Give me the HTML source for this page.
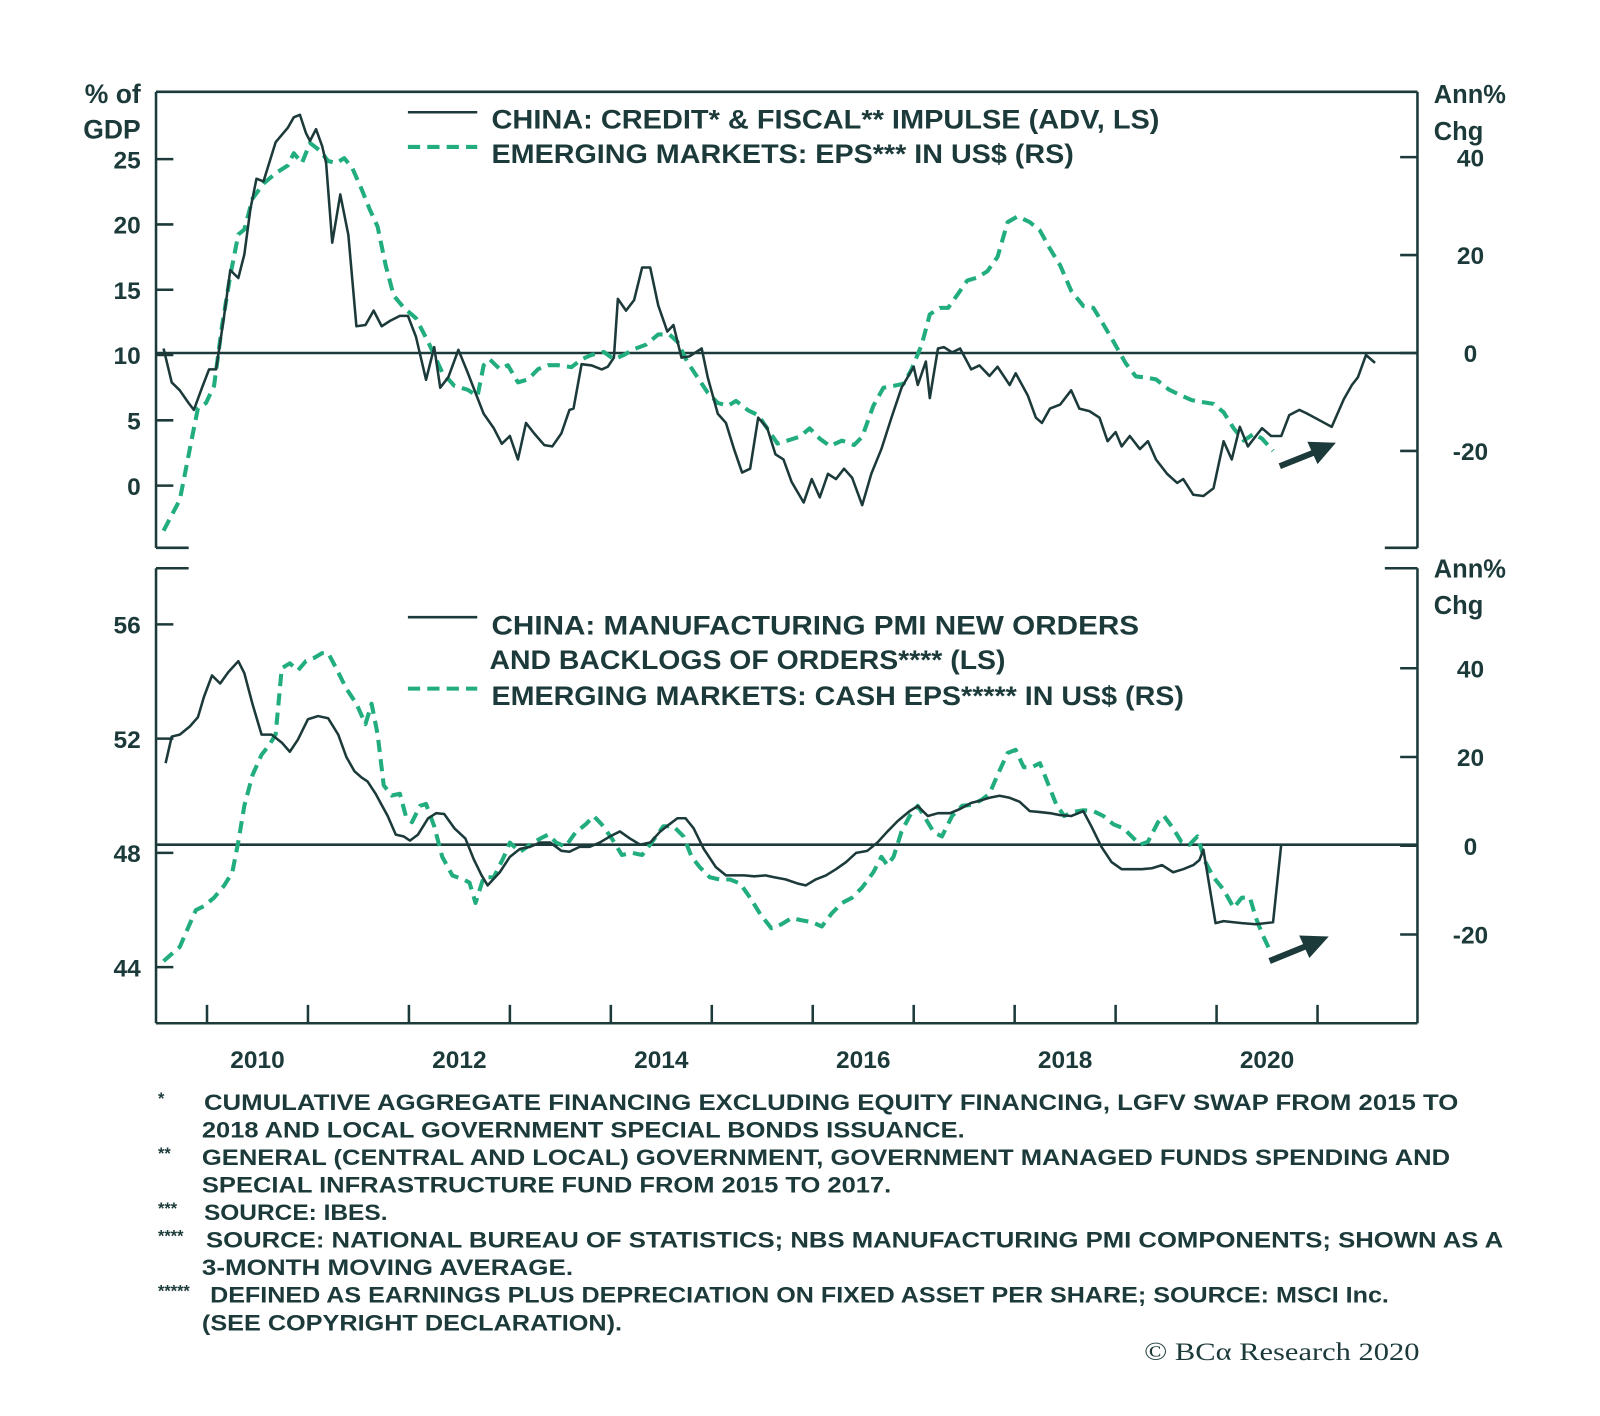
<!DOCTYPE html>
<html><head><meta charset="utf-8"><style>
html,body{margin:0;padding:0;background:#fff;}
svg{display:block;}
text{font-family:"Liberation Sans",sans-serif;fill:#1c3a3a;font-weight:bold;}
</style></head><body>
<svg id="chart" width="1600" height="1416" viewBox="0 0 1569 1388" preserveAspectRatio="none" xmlns="http://www.w3.org/2000/svg">
<rect width="1569" height="1388" fill="#fff"/>
<g id="frame" stroke="#1c3a3a" stroke-width="2.5" fill="none">
<line x1="153" y1="90" x2="1390" y2="90"/>
<line x1="153" y1="90" x2="153" y2="537"/>
<line x1="1390" y1="90" x2="1390" y2="537"/>
<line x1="153" y1="537" x2="185" y2="537"/>
<line x1="1358" y1="537" x2="1390" y2="537"/>
<line x1="153" y1="557" x2="185" y2="557"/>
<line x1="1358" y1="557" x2="1390" y2="557"/>
<line x1="153" y1="557" x2="153" y2="1003"/>
<line x1="1390" y1="557" x2="1390" y2="1003"/>
<line x1="153" y1="1003" x2="1390" y2="1003"/>
</g>
<g id="axes"></g>
<g id="series"></g>
<g>
<line x1="400" y1="110" x2="468" y2="110" stroke="#1c3a3a" stroke-width="2.5"/>
<line x1="400" y1="144" x2="468" y2="144" stroke="#22ad7f" stroke-width="4" stroke-dasharray="12,7"/>
<text x="482" y="126" font-size="26" textLength="655" lengthAdjust="spacingAndGlyphs">CHINA: CREDIT* &amp; FISCAL** IMPULSE (ADV, LS)</text>
<text x="482" y="160" font-size="26" textLength="571" lengthAdjust="spacingAndGlyphs">EMERGING MARKETS: EPS*** IN US$ (RS)</text>
</g>
<g>
<line x1="400" y1="605" x2="468" y2="605" stroke="#1c3a3a" stroke-width="2.5"/>
<line x1="400" y1="675" x2="468" y2="675" stroke="#22ad7f" stroke-width="4" stroke-dasharray="12,7"/>
<text x="482" y="622" font-size="26" textLength="635" lengthAdjust="spacingAndGlyphs">CHINA: MANUFACTURING PMI NEW ORDERS</text>
<text x="480" y="656" font-size="26" textLength="506" lengthAdjust="spacingAndGlyphs">AND BACKLOGS OF ORDERS**** (LS)</text>
<text x="482" y="691" font-size="26" textLength="679" lengthAdjust="spacingAndGlyphs">EMERGING MARKETS: CASH EPS***** IN US$ (RS)</text>
</g>
<g font-size="25">
<text x="138" y="101" text-anchor="end" font-size="26">% of</text>
<text x="138" y="136" text-anchor="end" font-size="26">GDP</text>
<text x="1406" y="101" font-size="25">Ann%</text>
<text x="1406" y="137" font-size="25">Chg</text>
<text x="1406" y="566" font-size="25">Ann%</text>
<text x="1406" y="602" font-size="25">Chg</text>
</g>
<g fill="#1c3a3a" stroke="#1c3a3a">
<line x1="1255" y1="457" x2="1290" y2="443" stroke-width="6"/>
<polygon points="1310,434 1282,433 1292,455" stroke="none"/>
<line x1="1245" y1="942" x2="1282" y2="927" stroke-width="6"/>
<polygon points="1303,918 1274,917 1284,939" stroke="none"/>
</g>
<g font-size="22">
<text x="155" y="1082" font-size="16">*</text>
<text x="200" y="1088" font-size="22" textLength="1230" lengthAdjust="spacingAndGlyphs">CUMULATIVE AGGREGATE FINANCING EXCLUDING EQUITY FINANCING, LGFV SWAP FROM 2015 TO</text>
<text x="198" y="1115" font-size="22" textLength="748" lengthAdjust="spacingAndGlyphs">2018 AND LOCAL GOVERNMENT SPECIAL BONDS ISSUANCE.</text>
<text x="155" y="1136" font-size="16">**</text>
<text x="198" y="1142" font-size="22" textLength="1224" lengthAdjust="spacingAndGlyphs">GENERAL (CENTRAL AND LOCAL) GOVERNMENT, GOVERNMENT MANAGED FUNDS SPENDING AND</text>
<text x="198" y="1169" font-size="22" textLength="676" lengthAdjust="spacingAndGlyphs">SPECIAL INFRASTRUCTURE FUND FROM 2015 TO 2017.</text>
<text x="155" y="1190" font-size="16">***</text>
<text x="200" y="1196" font-size="22" textLength="180" lengthAdjust="spacingAndGlyphs">SOURCE: IBES.</text>
<text x="155" y="1217" font-size="16">****</text>
<text x="202" y="1223" font-size="22" textLength="1272" lengthAdjust="spacingAndGlyphs">SOURCE: NATIONAL BUREAU OF STATISTICS; NBS MANUFACTURING PMI COMPONENTS; SHOWN AS A</text>
<text x="198" y="1250" font-size="22" textLength="364" lengthAdjust="spacingAndGlyphs">3-MONTH MOVING AVERAGE.</text>
<text x="155" y="1271" font-size="16">*****</text>
<text x="206" y="1277" font-size="22" textLength="1156" lengthAdjust="spacingAndGlyphs">DEFINED AS EARNINGS PLUS DEPRECIATION ON FIXED ASSET PER SHARE; SOURCE: MSCI Inc.</text>
<text x="198" y="1304" font-size="22" textLength="412" lengthAdjust="spacingAndGlyphs">(SEE COPYRIGHT DECLARATION).</text>
</g>
<text x="1122" y="1333" font-size="25" style="font-family:'Liberation Serif',serif;font-weight:normal" textLength="270" lengthAdjust="spacingAndGlyphs">© BCα Research 2020</text>
</svg>
<script>
const topCreditDates=[2009.57,2009.65,2009.73,2009.82,2009.87,2009.95,2010.02,2010.09,2010.17,2010.23,2010.31,2010.37,2010.43,2010.49,2010.56,2010.68,2010.80,2010.86,2010.92,2010.98,2011.02,2011.08,2011.14,2011.18,2011.24,2011.32,2011.40,2011.48,2011.57,2011.65,2011.73,2011.81,2011.91,2011.99,2012.07,2012.17,2012.25,2012.31,2012.39,2012.49,2012.58,2012.66,2012.74,2012.84,2012.92,2013.00,2013.08,2013.16,2013.24,2013.34,2013.42,2013.51,2013.59,2013.63,2013.71,2013.81,2013.91,2013.97,2014.03,2014.07,2014.15,2014.23,2014.31,2014.39,2014.47,2014.56,2014.62,2014.70,2014.78,2014.90,2014.96,2015.06,2015.14,2015.22,2015.30,2015.38,2015.46,2015.55,2015.63,2015.71,2015.79,2015.91,2015.99,2016.07,2016.15,2016.23,2016.31,2016.39,2016.49,2016.58,2016.68,2016.78,2016.88,2017.00,2017.04,2017.12,2017.16,2017.24,2017.30,2017.38,2017.46,2017.57,2017.65,2017.75,2017.83,2017.95,2018.01,2018.13,2018.21,2018.27,2018.35,2018.45,2018.56,2018.64,2018.74,2018.84,2018.92,2019.00,2019.06,2019.14,2019.24,2019.32,2019.40,2019.51,2019.61,2019.67,2019.77,2019.87,2019.97,2020.07,2020.15,2020.23,2020.31,2020.39,2020.45,2020.54,2020.64,2020.72,2020.82,2020.90,2021.02,2021.14,2021.26,2021.34,2021.40,2021.48,2021.57];
const topCreditValues=[10.5,7.9,7.3,6.3,5.8,7.5,8.9,8.9,13.0,16.5,15.9,17.7,21.2,23.5,23.3,26.3,27.4,28.2,28.4,27.0,26.4,27.3,26.0,24.7,18.6,22.3,19.2,12.2,12.3,13.4,12.2,12.6,13.0,13.0,11.4,8.1,10.6,7.5,8.3,10.4,8.7,7.1,5.5,4.4,3.2,3.8,2.0,4.8,4.0,3.1,3.0,4.0,5.8,5.9,9.3,9.2,8.9,9.1,9.8,14.3,13.4,14.2,16.7,16.7,13.8,11.8,12.3,9.8,9.9,10.5,8.3,5.5,4.8,2.8,1.0,1.3,5.2,4.4,2.4,2.0,0.3,-1.3,0.5,-0.9,0.9,0.5,1.3,0.6,-1.5,0.9,2.8,5.2,7.5,9.1,7.7,9.5,6.7,10.5,10.6,10.2,10.5,8.9,9.2,8.4,9.1,7.7,8.6,6.9,5.2,4.8,5.9,6.2,7.3,5.9,5.7,5.2,3.4,4.1,3.0,3.8,2.8,3.4,2.0,0.9,0.2,0.5,-0.7,-0.8,-0.2,3.4,2.0,4.5,3.0,3.8,4.4,3.8,3.8,5.4,5.8,5.5,5.0,4.5,6.6,7.7,8.3,10.0,9.4];
const topEpsDates=[2009.57,2009.65,2009.73,2009.79,2009.85,2009.91,2009.99,2010.07,2010.15,2010.23,2010.31,2010.37,2010.45,2010.56,2010.68,2010.80,2010.86,2010.94,2011.02,2011.12,2011.20,2011.28,2011.36,2011.44,2011.53,2011.61,2011.69,2011.77,2011.85,2011.95,2012.07,2012.19,2012.33,2012.45,2012.58,2012.68,2012.74,2012.80,2012.90,2012.98,2013.08,2013.18,2013.28,2013.38,2013.48,2013.61,2013.71,2013.81,2013.93,2014.03,2014.13,2014.23,2014.35,2014.47,2014.58,2014.66,2014.76,2014.86,2014.96,2015.06,2015.16,2015.24,2015.36,2015.46,2015.55,2015.65,2015.75,2015.87,2015.97,2016.07,2016.17,2016.29,2016.41,2016.49,2016.60,2016.70,2016.80,2016.90,2016.98,2017.08,2017.16,2017.26,2017.34,2017.44,2017.53,2017.63,2017.73,2017.83,2017.93,2018.03,2018.15,2018.25,2018.35,2018.45,2018.56,2018.68,2018.78,2018.88,2018.98,2019.10,2019.20,2019.30,2019.40,2019.53,2019.63,2019.75,2019.85,2019.97,2020.07,2020.17,2020.27,2020.37,2020.45,2020.56];
const topEpsValues=[-36.3,-33.1,-30.0,-23.8,-17.5,-11.3,-10.2,-6.7,5.8,15.8,24.2,25.2,31.5,34.6,36.7,38.3,40.8,38.8,42.9,41.3,39.2,38.8,39.8,37.7,33.5,29.4,25.8,17.9,11.7,9.2,7.1,2.3,-4.0,-6.7,-7.5,-8.8,-2.5,-1.3,-3.3,-2.5,-6.0,-5.4,-3.3,-2.5,-2.5,-2.9,-1.3,-0.4,0.2,-1.3,-0.4,0.8,1.7,3.8,3.8,2.3,-1.9,-5.0,-8.1,-10.2,-10.8,-9.8,-11.7,-12.7,-15.4,-18.5,-17.9,-17.1,-15.4,-17.5,-19.0,-17.9,-18.8,-17.1,-10.8,-7.1,-6.7,-6.3,-3.3,1.7,7.9,9.2,9.2,12.1,14.8,15.4,16.7,19.6,26.7,27.9,26.7,25.0,21.3,17.9,12.7,9.6,9.2,5.8,2.3,-2.1,-4.8,-5.0,-5.4,-7.5,-8.5,-9.6,-10.0,-10.4,-12.1,-15.4,-17.9,-16.5,-17.5,-20.0];
const pmiDates=[2009.59,2009.65,2009.73,2009.83,2009.91,2009.97,2010.05,2010.13,2010.21,2010.31,2010.37,2010.45,2010.54,2010.64,2010.74,2010.82,2010.90,2011.00,2011.10,2011.20,2011.30,2011.38,2011.46,2011.53,2011.59,2011.67,2011.79,2011.87,2011.95,2012.01,2012.09,2012.19,2012.27,2012.35,2012.45,2012.56,2012.64,2012.72,2012.78,2012.90,2013.00,2013.10,2013.20,2013.30,2013.40,2013.51,2013.59,2013.69,2013.79,2013.89,2013.99,2014.09,2014.19,2014.29,2014.39,2014.49,2014.58,2014.66,2014.74,2014.82,2014.92,2015.04,2015.14,2015.22,2015.32,2015.42,2015.53,2015.63,2015.73,2015.85,2015.93,2016.03,2016.13,2016.23,2016.33,2016.43,2016.54,2016.64,2016.74,2016.84,2016.96,2017.04,2017.14,2017.24,2017.36,2017.46,2017.57,2017.65,2017.75,2017.85,2017.95,2018.05,2018.15,2018.25,2018.35,2018.45,2018.56,2018.68,2018.76,2018.86,2018.96,2019.06,2019.16,2019.26,2019.36,2019.46,2019.57,2019.67,2019.77,2019.83,2019.87,2019.99,2020.07,2020.17,2020.25,2020.39,2020.56,2020.64];
const pmiValues=[51.14,52.07,52.14,52.43,52.75,53.46,54.21,53.93,54.32,54.71,54.29,53.21,52.14,52.14,51.86,51.54,51.96,52.68,52.79,52.71,52.14,51.36,50.86,50.64,50.5,50.07,49.29,48.64,48.57,48.43,48.64,49.21,49.39,49.36,48.86,48.5,47.79,47.21,46.86,47.32,47.86,48.14,48.21,48.36,48.36,48.07,48.04,48.21,48.21,48.36,48.57,48.75,48.5,48.29,48.36,48.75,49.0,49.21,49.21,48.86,48.14,47.5,47.21,47.21,47.21,47.18,47.21,47.14,47.07,46.93,46.86,47.07,47.21,47.43,47.68,48.0,48.07,48.36,48.75,49.11,49.46,49.64,49.29,49.39,49.39,49.54,49.75,49.82,49.93,50.0,49.93,49.79,49.46,49.43,49.39,49.32,49.29,49.46,48.93,48.21,47.68,47.43,47.43,47.43,47.46,47.57,47.32,47.43,47.57,47.75,48.11,45.54,45.61,45.57,45.54,45.5,45.57,48.29];
const cashEpsDates=[2009.57,2009.65,2009.73,2009.81,2009.89,2009.97,2010.07,2010.17,2010.25,2010.31,2010.37,2010.45,2010.54,2010.62,2010.68,2010.74,2010.82,2010.90,2010.98,2011.06,2011.14,2011.20,2011.28,2011.38,2011.48,2011.57,2011.63,2011.69,2011.75,2011.83,2011.91,2011.97,2012.03,2012.11,2012.17,2012.25,2012.33,2012.43,2012.54,2012.60,2012.66,2012.74,2012.84,2012.94,2013.00,2013.10,2013.20,2013.30,2013.38,2013.46,2013.55,2013.65,2013.75,2013.83,2013.91,2014.01,2014.11,2014.21,2014.31,2014.41,2014.52,2014.62,2014.72,2014.80,2014.88,2014.98,2015.08,2015.18,2015.28,2015.38,2015.48,2015.59,2015.69,2015.79,2015.89,2015.99,2016.09,2016.19,2016.29,2016.39,2016.49,2016.60,2016.68,2016.74,2016.80,2016.88,2016.96,2017.04,2017.12,2017.20,2017.28,2017.38,2017.48,2017.57,2017.67,2017.75,2017.83,2017.93,2018.01,2018.09,2018.17,2018.25,2018.33,2018.41,2018.49,2018.58,2018.68,2018.78,2018.88,2018.98,2019.08,2019.16,2019.24,2019.32,2019.42,2019.48,2019.57,2019.65,2019.73,2019.81,2019.89,2019.97,2020.07,2020.17,2020.25,2020.33,2020.39,2020.45,2020.52];
const cashEpsValues=[-26.0,-24.4,-22.8,-18.6,-14.5,-13.6,-11.7,-9.0,-6.0,0.9,9.0,15.9,20.5,22.8,25.1,40.0,41.1,39.5,41.6,42.3,43.4,43.4,40.0,35.4,32.0,27.4,32.0,25.1,13.6,11.3,11.7,6.7,5.3,9.0,9.4,4.4,-2.5,-6.7,-7.6,-8.3,-12.9,-7.1,-7.1,-2.5,0.7,-1.4,0.2,1.6,2.5,0.7,-0.2,3.0,4.8,6.7,4.8,1.6,-2.1,-1.6,-2.1,0.9,4.4,4.4,2.1,-2.5,-4.8,-7.1,-7.6,-7.6,-8.5,-11.7,-15.4,-18.6,-17.7,-16.3,-16.8,-17.2,-18.2,-15.2,-12.9,-11.7,-9.4,-6.0,-2.5,-4.4,-2.5,3.2,6.7,9.0,6.0,3.0,2.1,6.7,9.0,9.2,10.3,11.7,15.9,20.9,21.6,17.7,17.7,18.6,14.0,9.4,6.7,7.6,8.0,7.8,6.7,4.8,3.9,2.1,0.2,0.9,5.3,6.7,3.9,0.9,0.2,2.1,-3.7,-7.1,-9.9,-14.0,-11.7,-11.7,-16.3,-19.8,-23.2];
const topLeftTicks=[0,5,10,15,20,25];
const topRightTicks=[-20,0,20,40];
const botLeftTicks=[44,48,52,56];
const botRightTicks=[-20,0,20,40];
const xTickYears=[2010,2011,2012,2013,2014,2015,2016,2017,2018,2019,2020,2021];
const xLabelYears=[2010,2012,2014,2016,2018,2020];

const X=yr=>203+(yr-2010)*99;
const yTL=v=>476-v*12.8;
const yTR=v=>346-v*4.8;
const yBL=v=>836-(v-48)*28;
const yBR=v=>829-v*4.35;
const NS='http://www.w3.org/2000/svg';
const axes=document.getElementById('axes');
const series=document.getElementById('series');
function mk(tag,attrs,parent){const e=document.createElementNS(NS,tag);for(const k in attrs)e.setAttribute(k,attrs[k]);parent.appendChild(e);return e;}
function tick(x1,y1,x2,y2){const l=mk('line',{x1,y1,x2,y2,stroke:'#1c3a3a','stroke-width':2.5},axes);

}
function label(x,y,t,anchor){const e=mk('text',{x,y,'text-anchor':anchor,'font-size':24},axes);e.textContent=t;

}
topLeftTicks.forEach(v=>{const y=yTL(v);tick(153,y,170,y);label(138,y+9,String(v),'end');});
topRightTicks.forEach(v=>{const y=yTR(v);tick(1373,y,1390,y);label(1442,y+9,String(v),'middle');});
botLeftTicks.forEach(v=>{const y=yBL(v);tick(153,y,170,y);label(138,y+9,String(v),'end');});
botRightTicks.forEach(v=>{const y=yBR(v);tick(1373,y,1390,y);label(1442,y+9,String(v),'middle');});
xTickYears.forEach(yr=>{const x=X(yr);tick(x,985,x,1003);});
xLabelYears.forEach(yr=>{label(X(yr+0.5),1047,String(yr),'middle');});
const z1=mk('line',{x1:153,y1:yTR(0),x2:1390,y2:yTR(0),stroke:'#1c3a3a','stroke-width':2.5},axes);


const z2=mk('line',{x1:153,y1:yBR(0)-1,x2:1390,y2:yBR(0)-1,stroke:'#1c3a3a','stroke-width':2.5},axes);


function line(dates,vals,yf,color,w,dash){const d=dates.map((t,i)=>(i?'L':'M')+X(t).toFixed(1)+','+yf(vals[i]).toFixed(1)).join('');
const p=mk('path',{d,fill:'none',stroke:color,'stroke-width':w,'stroke-linejoin':'round'},series);
if(dash)p.setAttribute('stroke-dasharray',dash);return p;}
const s1=line(topEpsDates,topEpsValues,yTR,'#22ad7f',4,'12,7');


const s2=line(topCreditDates,topCreditValues,yTL,'#1c3a3a',2.5,null);


const s3=line(cashEpsDates,cashEpsValues,yBR,'#22ad7f',4,'12,7');


const s4=line(pmiDates,pmiValues,yBL,'#1c3a3a',2.5,null);


</script>
</body></html>
